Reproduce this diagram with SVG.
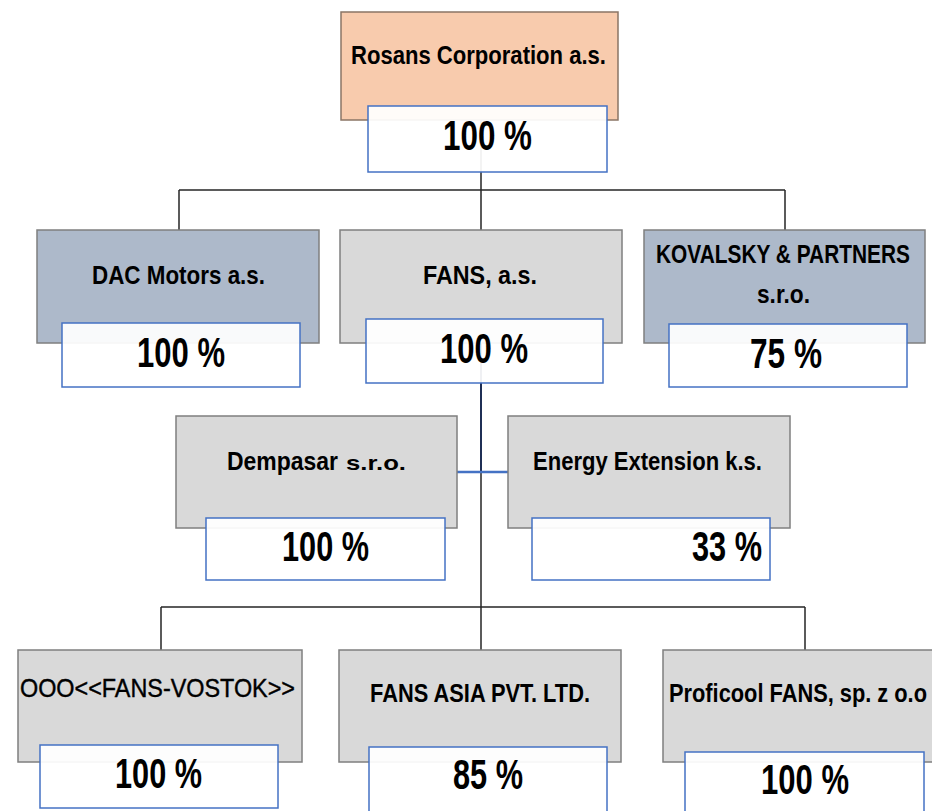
<svg xmlns="http://www.w3.org/2000/svg" width="932" height="811" viewBox="0 0 932 811">
<style>
.box{stroke:#7f7f7f;stroke-width:1.5}
.peach{fill:#F8CBAD;stroke:#8a7566}
.blue{fill:#ADB9CA}
.grey{fill:#D9D9D9}
.pct{fill:#ffffff;fill-opacity:0.93;stroke:#4472C4;stroke-width:1.5}
.t{font-family:"Liberation Sans",Arial,sans-serif;font-weight:bold;font-size:25px;fill:#000}
.reg{font-weight:normal;stroke:#000;stroke-width:0.4}
.p{font-family:"Liberation Sans",Arial,sans-serif;font-weight:bold;font-size:42px;fill:#000}
.conn{stroke:#262626;stroke-width:1.5;fill:none}
</style>
<rect width="932" height="811" fill="#ffffff"/>
<g id="connectors">
<path class="conn" d="M481,110 V190 M179,190 H785 M179,190 V230 M481,190 V230 M785,190 V230"/>
<path d="M481,343 V472" stroke="#1f2f55" stroke-width="2" fill="none"/>
<path class="conn" d="M481,472 V607 M161,607 H805 M161,607 V650 M481,607 V650 M805,607 V650"/>
<path d="M457,472 H508" stroke="#4472C4" stroke-width="2.5" fill="none"/>
</g>
<g id="rosans">
<rect class="box peach" x="341" y="12" width="277" height="108"/>
<text class="t" x="351" y="64" textLength="255" lengthAdjust="spacingAndGlyphs">Rosans Corporation a.s.</text>
<rect class="pct" x="368" y="106" width="239" height="66"/>
<text class="p" x="443" y="150" textLength="89" lengthAdjust="spacingAndGlyphs">100 %</text>
</g>
<g id="dac">
<rect class="box blue" x="37" y="230" width="282" height="113"/>
<text class="t" x="92" y="284" textLength="173" lengthAdjust="spacingAndGlyphs">DAC Motors a.s.</text>
<rect class="pct" x="62" y="323" width="238" height="64"/>
<text class="p" x="137" y="367" textLength="88" lengthAdjust="spacingAndGlyphs">100 %</text>
</g>
<g id="fans">
<rect class="box grey" x="340" y="230" width="282" height="113"/>
<text class="t" x="423" y="284" textLength="114" lengthAdjust="spacingAndGlyphs">FANS, a.s.</text>
<rect class="pct" x="366" y="319" width="237" height="64"/>
<text class="p" x="440" y="363" textLength="88" lengthAdjust="spacingAndGlyphs">100 %</text>
</g>
<g id="kovalsky">
<rect class="box blue" x="644" y="230" width="281" height="113"/>
<text class="t" x="656" y="263" textLength="254" lengthAdjust="spacingAndGlyphs">KOVALSKY &amp; PARTNERS</text>
<text class="t" x="757" y="303" textLength="53" lengthAdjust="spacingAndGlyphs">s.r.o.</text>
<rect class="pct" x="669" y="324" width="238" height="63"/>
<text class="p" x="750" y="368" textLength="72" lengthAdjust="spacingAndGlyphs">75 %</text>
</g>
<g id="dempasar">
<rect class="box grey" x="176" y="416" width="281" height="112"/>
<text class="t" x="227" y="470" textLength="111" lengthAdjust="spacingAndGlyphs">Dempasar</text>
<text class="t" x="346" y="470" style="font-size:21px" textLength="60" lengthAdjust="spacingAndGlyphs">s.r.o.</text>
<rect class="pct" x="206" y="518" width="239" height="62"/>
<text class="p" x="282" y="561" textLength="87" lengthAdjust="spacingAndGlyphs">100 %</text>
</g>
<g id="energy">
<rect class="box grey" x="508" y="416" width="282" height="112"/>
<text class="t" x="533" y="470" textLength="229" lengthAdjust="spacingAndGlyphs">Energy Extension k.s.</text>
<rect class="pct" x="532" y="518" width="238" height="62"/>
<text class="p" x="692" y="561" textLength="70" lengthAdjust="spacingAndGlyphs">33 %</text>
</g>
<g id="vostok">
<rect class="box grey" x="18" y="650" width="284" height="112"/>
<text class="t reg" x="20" y="697" textLength="275" lengthAdjust="spacingAndGlyphs">OOO&lt;&lt;FANS-VOSTOK&gt;&gt;</text>
<rect class="pct" x="40" y="745" width="238" height="63"/>
<text class="p" x="115" y="788" textLength="87" lengthAdjust="spacingAndGlyphs">100 %</text>
</g>
<g id="fansasia">
<rect class="box grey" x="339" y="650" width="282" height="112"/>
<text class="t" x="370" y="702" textLength="220" lengthAdjust="spacingAndGlyphs">FANS ASIA PVT.  LTD.</text>
<rect class="pct" x="369" y="747" width="238" height="66"/>
<text class="p" x="453" y="789" textLength="70" lengthAdjust="spacingAndGlyphs">85 %</text>
</g>
<g id="proficool">
<rect class="box grey" x="663" y="650" width="280" height="112"/>
<text class="t" x="669" y="702" textLength="258" lengthAdjust="spacingAndGlyphs">Proficool FANS, sp. z o.o</text>
<rect class="pct" x="685" y="752" width="239" height="66"/>
<text class="p" x="761" y="794" textLength="88" lengthAdjust="spacingAndGlyphs">100 %</text>
</g>
</svg>
